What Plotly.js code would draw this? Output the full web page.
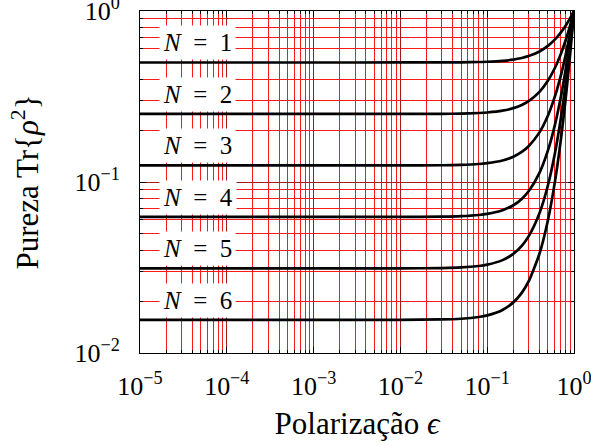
<!DOCTYPE html>
<html>
<head>
<meta charset="utf-8">
<script src="https://cdn.plot.ly/plotly-3.0.1.min.js"></script>
<style>html,body{margin:0;padding:0;background:#fff;}#chart{width:591px;height:445px;}</style>
</head>
<body>
<div id="chart"></div>
<script>
// Polarization values (x)
const polarizacao = [1e-5, 1e-3, 0.01, 0.03, 0.05, 0.08, 0.1, 0.15, 0.2, 0.25, 0.3, 0.4, 0.5, 0.6, 0.7, 0.8, 0.9, 1.0];
// Purity Tr{rho^2} for N = 1..6
const pureza1 = [0.5, 0.5, 0.50005, 0.50045, 0.50125, 0.5032, 0.505, 0.51125, 0.52, 0.53125, 0.545, 0.58, 0.625, 0.68, 0.745, 0.82, 0.905, 1];
const pureza2 = [0.25, 0.25, 0.25005, 0.25045, 0.251252, 0.25321, 0.255025, 0.261377, 0.2704, 0.282227, 0.297025, 0.3364, 0.390625, 0.4624, 0.555025, 0.6724, 0.819025, 1];
const pureza3 = [0.125, 0.125, 0.1250375, 0.125338, 0.12594, 0.127415, 0.128788, 0.133629, 0.140608, 0.149933, 0.161879, 0.195112, 0.244141, 0.314432, 0.413494, 0.551368, 0.741218, 1];
const pureza4 = [0.0625, 0.0625, 0.062525, 0.062725, 0.063127, 0.064115, 0.065038, 0.068318, 0.073116, 0.079652, 0.088224, 0.113165, 0.152588, 0.213814, 0.308053, 0.452122, 0.670802, 1];
const pureza5 = [0.03125, 0.03125, 0.0312656, 0.031391, 0.031642, 0.032263, 0.032844, 0.034928, 0.03802, 0.042315, 0.048082, 0.065636, 0.095367, 0.145393, 0.229499, 0.37074, 0.607076, 1];
const pureza6 = [0.015625, 0.015625, 0.0156344, 0.01571, 0.015861, 0.016235, 0.016586, 0.017857, 0.019771, 0.02248, 0.026205, 0.038069, 0.059605, 0.098867, 0.170977, 0.304007, 0.549404, 1];
const series = [pureza1, pureza2, pureza3, pureza4, pureza5, pureza6];
const curveLabels = ['<i>N</i>\u2002=\u20021', '<i>N</i>\u2002=\u20022', '<i>N</i>\u2002=\u20023', '<i>N</i>\u2002=\u20024', '<i>N</i>\u2002=\u20025', '<i>N</i>\u2002=\u20026'];

const xTickVals = [1e-5, 1e-4, 1e-3, 1e-2, 1e-1, 1];
const xTickText = ['10<sup>\u22125</sup>', '10<sup>\u22124</sup>', '10<sup>\u22123</sup>', '10<sup>\u22122</sup>', '10<sup>\u22121</sup>', '10<sup>0</sup>'];
const yTickVals = [1e-2, 1e-1, 1];
const yTickText = ['10<sup>\u22122</sup>', '10<sup>\u22121</sup>', '10<sup>0</sup>'];

function minorVals(lo, hi) {
  const v = [];
  for (let e = lo; e < hi; e++) for (let d = 2; d <= 9; d++) v.push(d * Math.pow(10, e));
  return v;
}

const FONT = "'Liberation Serif', 'DejaVu Serif', serif";
const traces = series.map(s => ({
  x: polarizacao, y: s, type: 'scatter', mode: 'lines',
  line: {color: 'black', width: 2.7, shape: 'spline', smoothing: 0.6},
  hoverinfo: 'skip', showlegend: false
}));

const labelX = 4.6e-5;
const annotations = series.map((s, i) => ({
  x: Math.log10(labelX), y: Math.log10(s[0] * 1.3), xref: 'x', yref: 'y',
  text: curveLabels[i], showarrow: false, bgcolor: 'white', borderpad: 3,
  font: {family: FONT, size: 25, color: 'black'}
}));

const axisCommon = {
  type: 'log', showline: true, linecolor: 'black', linewidth: 1, mirror: 'allticks',
  ticks: 'inside', ticklen: 6, tickcolor: 'black', tickwidth: 1,
  showgrid: true, gridcolor: '#a81a1a', gridwidth: 1, zeroline: false,
  tickmode: 'array', ticklabeloverflow: 'allow',
  tickfont: {family: FONT, size: 26, color: 'black'}
};

const layout = {
  width: 591, height: 445,
  margin: {l: 140, r: 17, t: 11, b: 92},
  paper_bgcolor: 'white', plot_bgcolor: 'white',
  font: {family: FONT, color: 'black'},
  xaxis: Object.assign({}, axisCommon, {
    range: [-5, 0], tickvals: xTickVals, ticktext: xTickText, ticklabelstandoff: 10,
    minor: {tickvals: minorVals(-5, 0), ticks: 'inside', ticklen: 3, tickcolor: 'black', showgrid: true, gridcolor: '#ff1a1a', gridwidth: 1},
    title: {text: 'Polariza\u00e7\u00e3o <i>\u03f5</i>', font: {family: FONT, size: 31, color: 'black'}, standoff: 12}
  }),
  yaxis: Object.assign({}, axisCommon, {
    range: [-2, 0], tickvals: yTickVals, ticktext: yTickText, ticklabelstandoff: 14,
    minor: {tickvals: minorVals(-2, 0), ticks: 'inside', ticklen: 3, tickcolor: 'black', showgrid: true, gridcolor: '#ff1a1a', gridwidth: 1},
    title: {text: 'Pureza Tr{<i>\u03c1</i><sup>2</sup>}', font: {family: FONT, size: 31, color: 'black'}, standoff: 26}
  }),
  annotations: annotations
};

Plotly.newPlot('chart', traces, layout, {staticPlot: true, displayModeBar: false});
</script>
</body>
</html>
